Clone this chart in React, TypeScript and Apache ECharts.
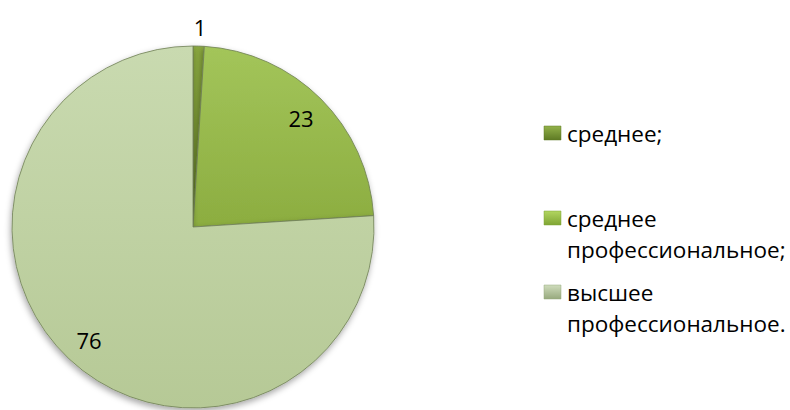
import React, { useEffect, useRef } from "react";
import * as echarts from "echarts";

const categories = ["среднее;", "среднее\nпрофессиональное;", "высшее\nпрофессиональное."];
const values = [1, 23, 76];
const sliceColors = [
  ["#8aa83f", "#6a8729"],
  ["#a3c55a", "#8cad40"],
  ["#c9dab0", "#b6c996"],
];
const legendIcon = [
  ["#93b24a", "#5e7a24"],
  ["#b2d660", "#7fa534"],
  ["#cfdcbc", "#97a97d"],
];

const labelShift = [
  [4, -107],
  [42, -43],
  [-40, 45],
];

const FONT = "'Open Sans', sans-serif";

export default function App() {
  const ref = useRef<HTMLDivElement>(null);
  useEffect(() => {
    if (!ref.current) return;
    const chart = echarts.init(ref.current, null, { renderer: "svg" });

    const legendTops = [133, 218, 292];
    const lineH = 31;
    const graphic: any[] = [];
    categories.forEach((name, i) => {
      const y = legendTops[i];
      graphic.push({
        type: "rect",
        shape: { x: 544, y: y - 7, width: 17, height: 14 },
        style: {
          fill: new echarts.graphic.LinearGradient(0, 0, 0, 1, [
            { offset: 0, color: legendIcon[i][0] },
            { offset: 1, color: legendIcon[i][1] },
          ]),
          stroke: legendIcon[i][1],
          lineWidth: 0.5,
        },
      });
      graphic.push({
        type: "text",
        x: 567,
        y: y - lineH / 2,
        style: {
          text: name,
          fill: "#000000",
          font: `22.5px ${FONT}`,
          lineHeight: lineH,
          textAlign: "left",
          textVerticalAlign: "top",
          verticalAlign: "top",
        },
      });
    });

    chart.setOption({
      animation: false,
      backgroundColor: "#ffffff",
      textStyle: { fontFamily: FONT },
      graphic,
      series: [
        {
          type: "pie",
          center: [193, 227],
          radius: 181,
          startAngle: 90,
          clockwise: true,
          avoidLabelOverlap: false,
          label: {
            show: true,
            position: "inside",
            formatter: "{c}",
            color: "#000000",
            fontSize: 22,
            fontFamily: FONT,
          },
          labelLine: { show: false },
          labelLayout: (p: any) => ({ dx: labelShift[p.dataIndex][0], dy: labelShift[p.dataIndex][1] }),
          itemStyle: {
            borderColor: "#6f7f55",
            borderWidth: 0.8,
            shadowBlur: 6,
            shadowColor: "rgba(0,0,0,0.35)",
            shadowOffsetX: -1,
            shadowOffsetY: 3,
          },
          emphasis: { disabled: true },
          data: values.map((v, i) => ({
            name: categories[i],
            value: v,
            itemStyle: {
              color: new echarts.graphic.LinearGradient(0, 0, 0, 1, [
                { offset: 0, color: sliceColors[i][0] },
                { offset: 1, color: sliceColors[i][1] },
              ]),
            },
          })),
        },
      ],
    });
    return () => chart.dispose();
  }, []);
  return (
    <div
      ref={ref}
      style={{ position: "fixed", left: 0, top: 0, width: 790, height: 410, background: "#fff" }}
    />
  );
}
